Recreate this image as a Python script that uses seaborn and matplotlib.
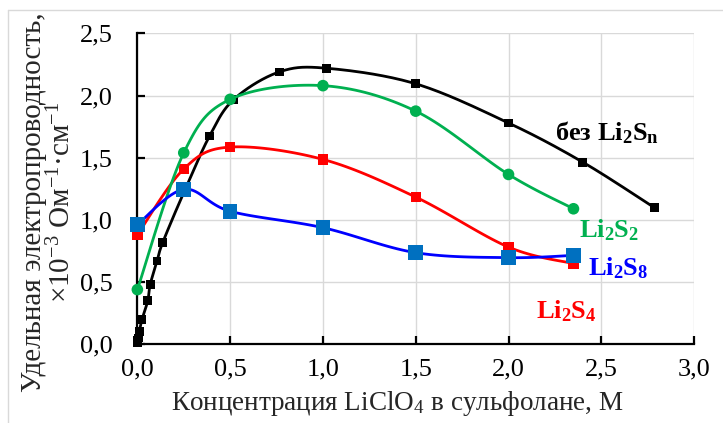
import numpy as np
import matplotlib
matplotlib.use("Agg")
import matplotlib.pyplot as plt
import seaborn as sns
from matplotlib.lines import Line2D

# data
x_none = [0.0, 0.002, 0.005, 0.01, 0.025, 0.056, 0.069, 0.106, 0.137, 0.25, 0.389, 0.52, 0.764, 1.02, 1.5, 2.0, 2.4, 2.785]
y_none = [0.01, 0.03, 0.05, 0.10, 0.20, 0.35, 0.48, 0.67, 0.82, 1.22, 1.675, 1.97, 2.19, 2.22, 2.095, 1.78, 1.465, 1.10]

x_s2 = [0.0, 0.25, 0.5, 1.0, 1.5, 2.0, 2.35]
y_s2 = [0.44, 1.54, 1.97, 2.08, 1.875, 1.366, 1.09]

x_s4 = [0.0, 0.25, 0.5, 1.0, 1.5, 2.0, 2.35]
y_s4 = [0.88, 1.41, 1.586, 1.487, 1.184, 0.782, 0.649]

x_s8 = [0.0, 0.25, 0.5, 1.0, 1.5, 2.0, 2.35]
y_s8 = [0.962, 1.246, 1.07, 0.938, 0.737, 0.697, 0.715]

x_ticks = [0.0, 0.5, 1.0, 1.5, 2.0, 2.5, 3.0]
y_ticks = [0.0, 0.5, 1.0, 1.5, 2.0, 2.5]


def smooth(xs, ys, n=20):
    # parametric Catmull-Rom, similar to Excel's smoothed lines
    p = np.column_stack([xs, ys]).astype(float)
    p = np.vstack([p[0], p, p[-1]])
    out = []
    t = np.linspace(0, 1, n, endpoint=False)[:, None]
    for i in range(1, len(p) - 2):
        p0, p1, p2, p3 = p[i - 1], p[i], p[i + 1], p[i + 2]
        seg = 0.5 * ((2 * p1) + (-p0 + p2) * t + (2 * p0 - 5 * p1 + 4 * p2 - p3) * t ** 2
                     + (-p0 + 3 * p1 - 3 * p2 + p3) * t ** 3)
        out.append(seg)
    out.append(p[-2][None, :])
    out = np.vstack(out)
    return out[:, 0], out[:, 1]


sns.set_theme(style="white")
plt.rcParams['font.family'] = ['Liberation Serif', 'DejaVu Serif']
plt.rcParams['mathtext.default'] = 'regular'

fig = plt.figure(figsize=(7.23, 4.23), dpi=100)
ax = fig.add_axes([0.190, 0.186, 0.770, 0.735])

series = [
    (x_none, y_none, "black", "black", "s", 40),
    (x_s4, y_s4, "#FF0000", "#FF0000", "s", 55),
    (x_s2, y_s2, "#00B050", "#00B050", "o", 70),
    (x_s8, y_s8, "#0000FF", "#0070C0", "s", 110),
]
for k, (xs, ys, lc, mc, mk, ms) in enumerate(series):
    sx, sy = smooth(xs, ys)
    ax.plot(sx, sy, color=lc, lw=2.0, zorder=3 + 2 * k, solid_capstyle="round", clip_on=False)
    sns.scatterplot(x=xs, y=ys, ax=ax, color=mc, marker=mk, s=ms,
                    edgecolor="none", zorder=4 + 2 * k, legend=False, clip_on=False)

ax.set_xlim(0, 3.0)
ax.set_ylim(0, 2.5)
ax.set_xticks(x_ticks)
ax.set_yticks(y_ticks)
ax.set_xticklabels([("%.1f" % v).replace(".", ",") for v in x_ticks])
ax.set_yticklabels([("%.1f" % v).replace(".", ",") for v in y_ticks])
ax.grid(True, color="#d9d9d9", lw=1.0)
ax.set_axisbelow(True)
for s in ["top", "right"]:
    ax.spines[s].set_visible(False)
for s in ["left", "bottom"]:
    ax.spines[s].set_color("black")
    ax.spines[s].set_linewidth(1.6)
ax.tick_params(axis="both", direction="in", length=6, width=1.6, colors="black",
               labelsize=19, left=True, bottom=True)
ax.tick_params(axis="y", pad=18)
ax.tick_params(axis="x", pad=10)

ax.set_xlabel("Концентрация LiClO$_4$ в сульфолане, М", fontsize=19.5, labelpad=2)
ax.xaxis.set_label_coords(0.467, -0.145)
ax.set_ylabel("Удельная электропроводность,\n×10$^{-3}$ Ом$^{-1}$·см$^{-1}$",
              fontsize=21, linespacing=1.05)
ax.yaxis.set_label_coords(-0.11, 0.457)

ax.text(2.25, 1.70, "без Li$_2$S$_n$", color="black", fontsize=19,
        fontweight="bold", va="center", ha="left")
ax.text(2.38, 0.92, "Li$_2$S$_2$", color="#00B050", fontsize=19,
        fontweight="bold", va="center", ha="left")
ax.text(2.43, 0.61, "Li$_2$S$_8$", color="#0000FF", fontsize=19,
        fontweight="bold", va="center", ha="left")
ax.text(2.15, 0.27, "Li$_2$S$_4$", color="#FF0000", fontsize=19,
        fontweight="bold", va="center", ha="left")

# light frame around the chart area
fx, fy = 8 / 723, 1 - 10 / 423
fig.add_artist(Line2D([fx, 1.0], [fy, fy], color="#d9d9d9", lw=1.0, transform=fig.transFigure))
fig.add_artist(Line2D([fx, fx], [0.0, fy], color="#d9d9d9", lw=1.0, transform=fig.transFigure))

fig.savefig("out.png", dpi=100)
